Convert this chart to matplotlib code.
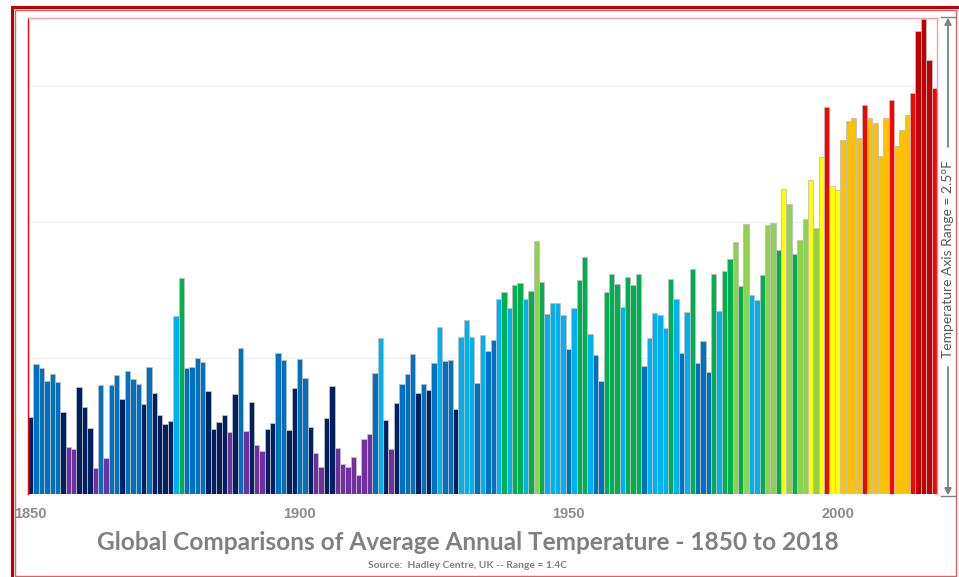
import numpy as np
import matplotlib
matplotlib.use("Agg")
import matplotlib.pyplot as plt
from matplotlib.lines import Line2D
from matplotlib.patches import Rectangle

# годовые аномалии температуры (HadCRUT), 1850-2018
years = np.arange(1850, 2019)
anomaly = [
    -0.373, -0.218, -0.228, -0.269, -0.248, -0.272, -0.358, -0.461, -0.467, -0.284,
    -0.343, -0.407, -0.524, -0.278, -0.494, -0.279, -0.251, -0.321, -0.238, -0.262,
    -0.276, -0.335, -0.227, -0.304, -0.368, -0.395, -0.384, -0.075, 0.035, -0.230,
    -0.227, -0.200, -0.213, -0.296, -0.409, -0.389, -0.367, -0.418, -0.307, -0.171,
    -0.416, -0.330, -0.455, -0.473, -0.410, -0.390, -0.186, -0.206, -0.412, -0.289,
    -0.203, -0.259, -0.402, -0.479, -0.520, -0.377, -0.283, -0.465, -0.511, -0.522,
    -0.490, -0.544, -0.437, -0.424, -0.244, -0.141, -0.383, -0.468, -0.333, -0.275,
    -0.247, -0.187, -0.302, -0.276, -0.294, -0.215, -0.108, -0.210, -0.206, -0.350,
    -0.137, -0.087, -0.137, -0.273, -0.131, -0.178, -0.147, -0.026, -0.006, -0.052,
    0.014, 0.020, -0.027, -0.004, 0.144, 0.025, -0.071, -0.038, -0.039, -0.074,
    -0.173, -0.052, 0.028, 0.097, -0.129, -0.190, -0.267, -0.007, 0.046, 0.017,
    -0.049, 0.038, 0.014, 0.048, -0.223, -0.140, -0.068, -0.074, -0.113, 0.032,
    -0.027, -0.186, -0.065, 0.062, -0.214, -0.149, -0.241, 0.047, -0.062, 0.057,
    0.092, 0.140, 0.011, 0.194, -0.014, -0.030, 0.045, 0.192, 0.198, 0.118,
    0.296, 0.254, 0.105, 0.148, 0.208, 0.325, 0.183, 0.390, 0.539, 0.306,
    0.294, 0.441, 0.496, 0.505, 0.447, 0.545, 0.506, 0.491, 0.395, 0.506,
    0.560, 0.425, 0.470, 0.514, 0.579, 0.763, 0.797, 0.677, 0.595,
]
tick_years = [1850, 1900, 1950, 2000]

# границы цветов и сами цвета
bounds = [-0.414, -0.281, -0.145, -0.010, 0.13, 0.27, 0.393, 0.53, 0.63]
palette = ["#7030A0", "#002060", "#0070C0", "#00B0F0", "#00B050",
           "#92D050", "#FFFF00", "#FFC000", "#FF0000", "#C00000"]

W, H = 959, 577
base, top = -0.6, 0.8


def fx(x):
    return x / W


def fy(y):
    return 1 - y / H


values = np.array(anomaly)
colors = [palette[np.searchsorted(bounds, v)] for v in values]

fig = plt.figure(figsize=(W / 100, H / 100), dpi=100)
ax = fig.add_axes([fx(28), fy(494), fx(937) - fx(28), fy(18) - fy(494)])

for g in [-0.2, 0.2, 0.6]:
    ax.axhline(g, color="#EEEEEE", lw=0.8, zorder=0)

ax.bar(years, values - base, bottom=base, width=1.0, color=colors,
       edgecolor="#BFBFBF", linewidth=0.6, zorder=2)

ax.set_xlim(1849.5, 2018.5)
ax.set_ylim(base, top)
ax.set_yticks([])
ax.set_xticks(tick_years)
ax.set_xticklabels([str(t) for t in tick_years], fontfamily="Liberation Sans",
                   fontweight="bold", fontsize=10.5, color="#8C8C8C")
ax.tick_params(axis="x", length=0, pad=9)

ax.spines["bottom"].set_visible(False)
ax.spines["left"].set_color("#FF0000")
ax.spines["left"].set_linewidth(1.0)
ax.spines["top"].set_color("#FF9999")
ax.spines["right"].set_color("#FF9999")
ax.spines["top"].set_linewidth(1.0)
ax.spines["right"].set_linewidth(1.0)

# рамка вокруг всей картинки
fig.add_artist(Rectangle((fx(14.5), fy(575.5)), fx(956) - fx(14.5), fy(10) - fy(575.5),
                         transform=fig.transFigure, fill=False, edgecolor="#E06060", lw=1.0))
fig.add_artist(Line2D([fx(12), fx(12)], [fy(7), fy(577)], transform=fig.transFigure,
                      color="#C00000", lw=2.2))
fig.add_artist(Line2D([fx(12), fx(959)], [fy(7), fy(7)], transform=fig.transFigure,
                      color="#C00000", lw=2.2))

# стрелка диапазона справа
ax_x = fx(948)
for yy in [17, 496]:
    fig.add_artist(Line2D([fx(941), fx(955)], [fy(yy), fy(yy)], transform=fig.transFigure,
                          color="#808080", lw=1.0))
arrow = dict(arrowstyle="-|>", color="#808080", lw=1.0, mutation_scale=10,
             shrinkA=0, shrinkB=0)
fig.add_artist(plt.annotate("", xy=(ax_x, fy(18)), xytext=(ax_x, fy(147)),
                            xycoords="figure fraction", textcoords="figure fraction",
                            arrowprops=arrow))
fig.add_artist(plt.annotate("", xy=(ax_x, fy(495)), xytext=(ax_x, fy(367)),
                            xycoords="figure fraction", textcoords="figure fraction",
                            arrowprops=arrow))
fig.text(ax_x, fy(259), "Temperature Axis Range = 2.5°F", rotation=90,
         ha="center", va="center", fontfamily="Lato", fontsize=10, color="#595959")

fig.text(fx(468), fy(543), "Global Comparisons of Average Annual Temperature - 1850 to 2018",
         ha="center", va="center", fontfamily="Lato", fontweight="bold", fontsize=17.6,
         color="#808080")
fig.text(fx(468), fy(566), "Source:  Hadley Centre, UK -- Range = 1.4C",
         ha="center", va="center", fontfamily="Lato", fontweight="bold", fontsize=7.4,
         color="#808080")

fig.savefig("out.png", dpi=100)
